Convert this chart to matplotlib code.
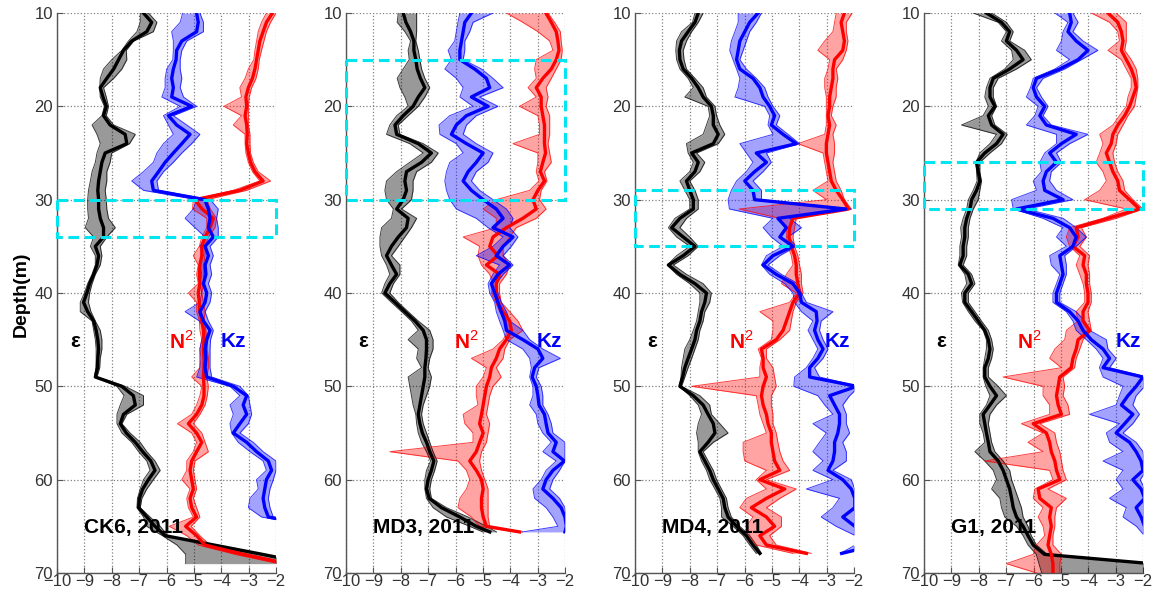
import numpy as np
import matplotlib.pyplot as plt
from matplotlib.patches import Rectangle

plt.rcParams['font.family'] = ['Liberation Sans', 'DejaVu Sans']
plt.rcParams['mathtext.fontset'] = 'custom'
plt.rcParams['mathtext.rm'] = 'Liberation Sans'
nan = np.nan

# ---------------- data: depth grids (m) ----------------
ck6_z = list(range(10, 70))
md3_z = list(range(10, 66)) + [65.6]
md4_z = list(range(10, 68)) + [67.9]
g1_z = list(range(10, 71))

# ---------------- CK6 ----------------
ck6_eps = [-6.84, -6.54, -6.72, -7.27, -7.57, -7.75, -7.93, -8.18, -8.42, -8.32,
           -8.20, -8.30, -8.06, -7.51, -7.45, -8.24, -8.36, -8.42, -8.48, -8.51,
           -8.48, -8.48, -8.42, -8.30, -8.30, -8.60, -8.48, -8.54, -8.66, -8.81,
           -8.91, -9.03, -8.88, -8.66, -8.57, -8.51, -8.48, -8.51, -8.52, -8.60,
           -7.63, -7.21, -7.14, -7.57, -7.69, -7.47, -7.14, -6.87, -6.57, -6.42,
           -6.66, -6.87, -6.99, -7.02, -6.72, -6.42, -6.05, -4.27, -2.50, -0.80]
ck6_eps_lo = [-6.96, -6.96, -7.08, -7.39, -7.63, -8.00, -8.30, -8.42, -8.44, -8.42,
              -8.27, -8.36, -8.72, -8.54, -8.42, -8.54, -8.60, -8.72, -8.78, -8.85,
              -8.88, -8.88, -8.85, -8.97, -8.66, -8.78, -8.60, -8.60, -8.72, -8.88,
              -9.00, -9.15, -9.15, -8.72, -8.66, -8.60, -8.57, -8.57, -8.58, -8.63,
              -7.81, -7.55, -7.69, -7.81, -7.81, -7.63, -7.27, -7.02, -6.72, -6.60,
              -6.84, -6.96, -7.06, -7.08, -6.84, -6.72, -6.15, -5.62, -5.30, -5.30]
ck6_eps_hi = [-6.66, -6.35, -6.48, -7.20, -7.47, -7.45, -7.63, -7.93, -8.30, -8.20,
              -8.12, -8.20, -7.93, -7.14, -7.35, -8.00, -8.06, -8.18, -8.18, -8.24,
              -8.20, -8.18, -8.12, -7.87, -8.18, -8.42, -8.36, -8.42, -8.60, -8.72,
              -8.81, -8.85, -8.76, -8.60, -8.42, -8.36, -8.36, -8.42, -8.44, -8.54,
              -7.51, -6.84, -6.84, -7.45, -7.63, -7.33, -6.96, -6.72, -6.42, -6.23,
              -6.48, -6.72, -6.90, -6.96, -6.60, -6.23, -5.95, -4.27, -2.50, -0.80]
ck6_n2 = [-2.13, -2.35, -2.47, -2.59, -2.65, -2.71, -2.77, -2.86, -3.01, -3.10,
          -3.07, -3.13, -3.07, -3.05, -3.07, -3.01, -2.93, -2.77, -2.47, -3.32,
          -4.96, -4.70, -4.29, -4.41, -4.59, -4.71, -4.71, -4.78, -4.80, -4.78,
          -4.84, -4.80, -4.78, -4.71, -4.65, -4.63, -4.65, -4.63, -4.63, -4.65,
          -4.63, -4.63, -4.71, -4.90, -5.20, -4.90, -4.71, -4.90, -5.08, -5.14,
          -5.08, -5.02, -5.14, -5.08, -4.90, -5.30, -4.90, -4.60, -3.20, -1.60]
ck6_n2_lo = [-2.35, -2.53, -2.65, -2.71, -2.77, -2.81, -3.01, -3.13, -3.32, -3.26,
             -3.90, -3.26, -3.56, -3.13, -3.13, -3.10, -3.01, -2.86, -2.59, -3.56,
             -5.02, -5.05, -4.53, -4.53, -4.71, -4.80, -5.02, -4.84, -4.90, -4.84,
             -5.20, -4.90, -4.90, -4.80, -4.78, -4.71, -4.78, -4.74, -4.78, -5.08,
             -4.71, -4.78, -4.90, -5.08, -5.60, -5.08, -4.90, -5.02, -5.26, -5.26,
             -5.44, -5.14, -5.26, -5.20, -5.02, -5.90, -5.26, -4.84, -3.50, -1.90]
ck6_n2_hi = [-2.00, -2.20, -2.35, -2.44, -2.53, -2.61, -2.65, -2.73, -2.89, -2.98,
             -3.01, -3.01, -3.01, -2.95, -2.95, -2.93, -2.83, -2.65, -2.20, -3.07,
             -4.53, -4.40, -4.17, -4.23, -4.47, -4.59, -4.59, -4.65, -4.65, -4.65,
             -4.71, -4.65, -4.59, -4.63, -4.56, -4.53, -4.51, -4.47, -4.47, -4.53,
             -4.47, -4.51, -4.59, -4.78, -5.02, -4.71, -4.59, -4.47, -4.96, -5.02,
             -4.96, -4.90, -5.02, -4.90, -4.78, -5.10, -4.78, -4.41, -3.00, -1.40]
ck6_kz = [-4.90, -4.84, -4.90, -5.44, -5.63, -5.65, -5.75, -5.81, -5.75, -5.81,
          -5.08, -5.93, -5.63, -5.14, -5.44, -5.75, -6.05, -6.29, -6.54, -6.48,
          -4.60, -4.47, -4.41, -4.47, -4.29, -4.59, -4.47, -4.59, -4.56, -4.65,
          -4.53, -4.59, -4.78, -4.65, -4.41, -4.53, -4.59, -4.56, -4.59, -4.53,
          -3.56, -3.07, -3.20, -3.07, -3.32, -3.56, -3.07, -2.71, -2.28, -2.16,
          -2.35, -2.41, -2.47, -2.41, -2.28, -0.50, nan, nan, nan, nan]
ck6_kz_lo = [-5.41, -5.50, -5.81, -5.75, -5.75, -5.77, -5.99, -6.05, -6.05, -6.17,
             -5.50, -6.11, -5.93, -5.75, -6.11, -6.35, -6.48, -6.84, -7.27, -6.84,
             -4.90, -5.02, -5.32, -4.96, -4.59, -4.78, -4.65, -4.78, -4.71, -4.78,
             -4.71, -4.78, -5.32, -4.80, -4.59, -4.71, -4.78, -4.78, -4.78, -4.90,
             -3.68, -3.32, -3.68, -3.56, -3.68, -3.62, -3.38, -2.95, -2.47, -2.35,
             -2.71, -2.65, -2.95, -3.01, -2.53, -0.60, nan, nan, nan, nan]
ck6_kz_hi = [-4.78, -4.65, -4.65, -5.26, -5.44, -5.50, -5.50, -5.44, -5.50, -5.38,
             -4.90, -5.75, -5.26, -4.78, -5.08, -5.44, -5.75, -6.11, -6.35, -6.29,
             -4.40, -4.11, -4.17, -4.11, -4.11, -4.41, -4.29, -4.41, -4.35, -4.47,
             -4.35, -4.41, -4.59, -4.47, -4.29, -4.39, -4.41, -4.41, -4.41, -4.35,
             -3.32, -3.01, -2.95, -2.89, -3.01, -3.32, -2.83, -2.47, -2.00, -2.00,
             -2.10, -2.22, -2.28, -2.22, -2.10, -0.40, nan, nan, nan, nan]

# ---------------- MD3 ----------------
md3_eps = [-7.91, -7.81, -7.64, -7.52, -7.52, -7.45, -7.40, -7.28, -7.12, -7.36,
           -7.55, -7.91, -8.21, -8.15, -7.36, -6.88, -7.24, -7.79, -7.85, -7.79,
           -7.91, -8.15, -7.73, -7.79, -8.09, -8.34, -8.52, -8.34, -8.15, -8.40,
           -8.58, -8.21, -7.85, -7.48, -7.18, -7.06, -7.06, -7.08, -7.12, -7.12,
           -7.18, -7.24, -7.30, -7.36, -7.30, -7.21, -7.06, -6.94, -6.79, -6.88,
           -7.00, -7.06, -6.96, -6.51, -5.84, -5.24, -4.75]
md3_eps_lo = [-8.09, -8.13, -7.85, -7.64, -7.73, -7.69, -7.91, -8.13, -8.03, -7.85,
              -7.73, -8.15, -8.40, -8.52, -7.67, -7.18, -7.67, -8.15, -8.52, -8.58,
              -8.52, -8.27, -8.34, -8.70, -8.76, -8.76, -8.70, -8.52, -8.40, -8.58,
              -8.70, -8.34, -7.97, -7.61, -7.36, -7.73, -7.36, -7.42, -7.24, -7.73,
              -7.67, -7.61, -7.55, -7.45, -7.42, -7.36, -7.24, -7.06, -6.91, -7.06,
              -7.12, -7.12, -7.06, -6.82, -6.33, -5.48, -5.00]
md3_eps_hi = [-7.42, -7.42, -7.42, -7.45, -7.36, -7.30, -7.24, -7.12, -6.94, -7.12,
              -7.36, -7.73, -8.09, -8.03, -7.18, -6.63, -6.88, -7.42, -7.55, -7.55,
              -7.61, -7.97, -7.42, -7.61, -7.85, -8.09, -8.34, -8.03, -8.03, -8.27,
              -8.40, -8.09, -7.73, -7.36, -6.94, -6.82, -6.82, -6.94, -7.00, -6.88,
              -6.94, -7.06, -7.18, -7.24, -7.18, -7.06, -6.94, -6.82, -6.67, -6.76,
              -6.88, -6.94, -6.88, -6.33, -5.54, -4.87, -4.50]
md3_n2 = [-2.70, -2.50, -2.32, -2.26, -2.22, -2.32, -2.50, -2.81, -3.05, -2.87,
          -2.87, -2.81, -2.75, -2.75, -2.75, -2.71, -2.81, -2.90, -2.75, -2.99,
          -3.17, -3.05, -3.54, -4.14, -4.63, -4.75, -4.45, -4.87, -4.39, -4.51,
          -4.51, -4.45, -4.26, -4.02, -3.96, -4.14, -4.39, -4.51, -4.69, -4.75,
          -4.87, -4.93, -4.99, -5.05, -5.12, -4.99, -5.12, -5.24, -5.48, -5.24,
          -5.05, -4.99, -5.05, -5.05, -4.99, -4.87, -3.66]
md3_n2_lo = [-4.14, -3.54, -2.99, -2.56, -2.44, -3.05, -3.11, -3.05, -3.35, -3.05,
             -3.66, -2.99, -2.93, -2.93, -3.90, -2.99, -2.99, -3.05, -2.95, -3.29,
             -4.51, -4.99, -4.51, -4.51, -5.72, -5.12, -5.18, -5.05, -4.75, -4.63,
             -4.69, -4.53, -4.39, -4.14, -4.08, -4.26, -4.63, -5.42, -4.87, -4.99,
             -5.24, -5.24, -5.18, -5.72, -5.66, -5.36, -5.36, -8.40, -5.91, -5.60,
             -5.48, -5.60, -5.84, -5.91, -5.42, -5.12, -3.80]
md3_n2_hi = [-2.62, -2.38, -2.17, -2.14, -2.10, -2.14, -2.32, -2.50, -2.69, -2.62,
             -2.69, -2.56, -2.56, -2.56, -2.62, -2.56, -2.50, -2.75, -2.66, -2.87,
             -2.93, -2.69, -3.05, -3.78, -4.02, -4.26, -4.26, -4.02, -4.14, -4.39,
             -4.39, -4.33, -4.02, -3.72, -3.54, -4.02, -4.20, -4.26, -4.51, -4.33,
             -4.63, -4.75, -4.81, -4.87, -4.75, -4.81, -4.87, -5.05, -5.12, -5.05,
             -4.93, -4.81, -4.81, -4.81, -4.81, -4.75, -3.55]
md3_kz = [-5.42, -5.66, -5.72, -5.78, -5.84, -5.84, -5.30, -4.87, -4.75, -5.42,
          -4.81, -5.60, -5.97, -6.15, -5.60, -4.99, -5.24, -5.54, -5.72, -5.42,
          -4.99, -4.51, -4.26, -4.63, -3.90, -4.26, -4.51, -4.02, -4.45, -4.69,
          -4.57, -4.45, -4.33, -4.20, -4.14, -3.54, -2.99, -2.81, -3.11, -3.20,
          -3.05, -2.99, -2.95, -2.75, -2.69, -2.62, -2.32, -2.44, -2.02, -2.44,
          -2.69, -2.81, -2.44, -2.14, -2.00, -1.95, -2.00]
md3_kz_lo = [-5.84, -5.91, -5.97, -6.03, -6.27, -6.15, -6.39, -5.97, -5.72, -5.84,
             -5.36, -6.21, -6.60, -6.57, -5.97, -5.72, -6.21, -6.33, -6.39, -6.33,
             -6.21, -5.97, -5.24, -4.81, -4.26, -4.63, -5.24, -4.39, -4.63, -4.81,
             -4.75, -4.57, -4.51, -4.39, -4.26, -4.14, -3.54, -3.29, -3.23, -3.29,
             -3.17, -3.17, -3.29, -3.05, -2.99, -2.81, -2.50, -2.81, -2.32, -2.69,
             -2.87, -3.17, -3.11, -2.69, -2.44, -2.26, -3.55]
md3_kz_hi = [-4.63, -5.36, -5.48, -5.66, -5.66, -5.72, -5.05, -4.63, -4.26, -5.12,
             -4.45, -5.24, -5.60, -5.72, -5.24, -4.63, -4.81, -5.24, -5.42, -5.12,
             -4.63, -4.14, -3.90, -4.02, -3.72, -3.96, -4.26, -3.90, -4.26, -4.51,
             -4.45, -4.33, -4.14, -4.02, -3.54, -3.29, -2.81, -2.17, -2.95, -3.05,
             -2.87, -2.81, -2.81, -2.62, -2.50, -2.44, -2.00, -2.00, -2.00, -2.20,
             -2.44, -2.56, -2.20, -2.00, -1.96, -1.90, -1.90]

# ---------------- MD4 ----------------
md4_eps = [-7.69, -7.81, -8.06, -8.30, -8.38, -8.36, -8.24, -7.93, -7.69, -7.51,
           -7.21, -7.14, -7.14, -6.96, -7.14, -7.93, -7.69, -7.81, -8.12, -8.00,
           -7.87, -7.87, -8.36, -8.66, -8.24, -7.81, -8.24, -8.78, -8.36, -7.81,
           -7.39, -7.45, -7.57, -7.63, -7.75, -7.81, -7.93, -8.06, -8.18, -8.26,
           -8.36, -7.87, -7.51, -7.33, -7.14, -7.08, -7.33, -7.63, -7.45, -7.27,
           -7.14, -6.96, -6.78, -6.72, -6.60, -6.29, -5.93, -5.69, -5.44]
md4_eps_lo = [-7.81, -7.90, -8.30, -8.48, -8.51, -8.48, -8.36, -8.06, -7.87, -8.18,
              -7.33, -7.27, -7.39, -7.51, -8.12, -8.06, -7.87, -8.00, -8.36, -8.18,
              -8.00, -8.00, -8.54, -8.78, -8.48, -8.00, -8.48, -8.82, -8.48, -8.00,
              -7.63, -7.63, -7.69, -7.75, -7.87, -8.00, -8.18, -8.24, -8.30, -8.32,
              -8.38, -8.00, -7.69, -7.57, -7.69, -7.75, -7.69, -7.69, -7.57, -7.39,
              -7.27, -7.08, -6.90, -6.84, -6.84, -6.42, -6.05, -5.81, -5.57]
md4_eps_hi = [-7.51, -7.69, -7.93, -8.12, -8.24, -8.21, -8.12, -7.81, -7.51, -7.39,
              -7.08, -7.02, -6.90, -6.72, -6.96, -7.75, -7.45, -7.63, -8.00, -7.81,
              -7.69, -7.69, -8.12, -8.36, -8.00, -7.69, -8.06, -8.60, -8.12, -7.51,
              -7.21, -7.27, -7.45, -7.51, -7.63, -7.69, -7.81, -7.93, -8.06, -8.18,
              -8.30, -7.63, -7.27, -7.21, -6.90, -6.60, -7.14, -7.51, -7.33, -7.14,
              -7.02, -6.84, -6.66, -6.60, -6.48, -6.17, -5.81, -5.57, -5.38]
md4_n2 = [-2.35, -2.47, -2.41, -2.35, -2.41, -2.71, -2.77, -2.77, -2.83, -2.89,
          -2.89, -2.95, -2.89, -2.95, -3.01, -3.01, -2.95, -2.89, -2.83, -2.65,
          -2.41, -2.20, -4.23, -4.35, -4.37, -4.29, -4.17, -4.11, -4.11, -4.05,
          -3.99, -4.23, -4.35, -4.47, -4.59, -4.84, -5.38, -5.32, -5.32, -5.20,
          -5.32, -5.38, -5.32, -5.20, -5.14, -5.02, -5.02, -4.96, -4.90, -4.71,
          -5.44, -4.53, -5.20, -5.75, -5.20, -4.90, -5.44, -5.20, -3.74]
md4_n2_lo = [-2.65, -2.71, -2.77, -3.07, -3.32, -2.89, -2.95, -3.07, -3.07, -3.01,
             -3.01, -3.01, -3.01, -3.07, -4.05, -3.13, -3.07, -3.01, -2.95, -3.50,
             -3.01, -6.20, -4.71, -4.47, -4.47, -4.41, -4.29, -4.23, -4.47, -4.65,
             -4.11, -4.35, -5.44, -4.96, -4.96, -5.02, -5.50, -5.38, -5.44, -5.44,
             -7.93, -5.57, -5.50, -5.44, -5.32, -5.20, -6.05, -6.05, -5.99, -5.20,
             -5.57, -5.20, -5.93, -6.17, -5.69, -5.93, -5.81, -5.57, -4.23]
md4_n2_hi = [-2.07, -2.28, -2.28, -2.22, -2.28, -2.41, -2.65, -2.59, -2.65, -2.65,
             -2.77, -2.83, -2.65, -2.77, -2.71, -2.71, -2.77, -2.71, -2.65, -2.47,
             -2.35, -2.10, -4.11, -4.17, -4.23, -4.17, -4.05, -3.99, -3.92, -3.92,
             -3.86, -4.11, -4.23, -4.29, -4.35, -4.71, -5.20, -5.20, -4.96, -4.90,
             -4.84, -5.02, -5.02, -4.96, -4.96, -4.84, -4.78, -4.71, -4.59, -4.35,
             -5.20, -4.11, -4.71, -5.20, -4.65, -4.65, -5.08, -4.84, -3.56]
md4_kz = [-5.50, -5.81, -5.99, -6.17, -6.23, -6.29, -6.17, -5.69, -5.44, -5.32,
          -5.08, -4.90, -5.02, -4.59, -4.11, -5.57, -5.20, -5.63, -5.99, -5.69,
          -5.63, -2.30, -4.78, -4.47, -4.71, -4.23, -4.96, -5.32, -4.84, -4.23,
          -3.99, -3.92, -3.38, -3.35, -3.44, -3.32, -3.13, -3.32, -3.62, -3.62,
          -1.90, -2.89, -2.71, -2.53, -2.53, -2.59, -2.71, -2.71, -2.77, -2.95,
          -2.41, -2.10, -1.97, -1.97, -2.41, -1.97, -1.20, -1.20, -2.45]
md4_kz_lo = [-6.23, -6.23, -6.35, -6.48, -6.54, -6.42, -6.29, -6.17, -6.23, -6.35,
             -5.26, -5.08, -5.14, -4.96, -6.17, -5.93, -5.69, -5.93, -6.29, -6.48,
             -6.60, -6.55, -4.96, -5.32, -5.02, -4.59, -5.20, -5.38, -5.08, -4.53,
             -4.23, -4.17, -3.92, -3.50, -3.68, -3.50, -3.32, -3.50, -3.74, -4.17,
             -4.20, -3.32, -3.07, -2.77, -3.50, -3.01, -3.26, -3.50, -3.13, -3.50,
             -2.77, -3.74, -2.53, -2.77, -3.20, -2.65, -1.95, -1.95, -2.50]
md4_kz_hi = [-5.38, -5.57, -5.81, -5.93, -6.05, -6.17, -5.93, -5.57, -5.26, -5.14,
             -4.96, -4.71, -4.84, -4.41, -3.99, -5.20, -5.02, -5.32, -5.69, -5.38,
             -5.38, -2.10, -4.35, -3.92, -4.41, -4.11, -4.71, -5.14, -4.65, -4.05,
             -3.92, -3.74, -2.77, -3.20, -3.26, -3.13, -2.95, -3.13, -3.44, -3.26,
             -1.80, -2.16, -2.41, -2.28, -2.28, -2.16, -2.41, -2.28, -2.28, -2.77,
             -2.10, -1.97, -1.90, -1.90, -1.97, -1.90, -1.00, -1.00, -2.40]

# ---------------- G1 ----------------
g1_eps = [-7.72, -7.17, -6.87, -6.99, -6.62, -6.38, -6.87, -7.47, -7.59, -7.59,
          -7.41, -7.65, -7.53, -7.11, -7.35, -7.78, -8.08, -8.02, -7.96, -8.08,
          -8.26, -8.32, -8.44, -8.51, -8.51, -8.57, -8.57, -8.69, -8.38, -8.26,
          -8.51, -8.51, -8.26, -8.02, -7.78, -7.65, -7.59, -7.65, -7.78, -7.78,
          -7.59, -7.35, -7.59, -7.84, -7.78, -7.72, -7.65, -7.59, -7.29, -7.11,
          -6.99, -6.87, -6.80, -6.74, -6.62, -6.38, -6.20, -6.01, -5.60, -1.70,
          -1.00]
g1_eps_lo = [-8.20, -7.29, -6.99, -7.17, -6.80, -6.74, -7.05, -7.59, -7.72, -7.78,
             -7.65, -7.84, -8.63, -7.35, -7.59, -7.96, -8.10, -8.08, -8.06, -8.20,
             -8.38, -8.44, -8.57, -8.66, -8.63, -8.69, -8.69, -8.75, -8.51, -8.44,
             -8.63, -8.59, -8.38, -8.14, -7.84, -7.72, -7.72, -7.78, -7.84, -7.84,
             -7.74, -7.59, -7.72, -7.96, -7.96, -7.84, -7.78, -8.14, -7.78, -7.47,
             -7.35, -7.53, -7.23, -7.17, -7.05, -6.62, -6.38, -6.20, -5.90, -5.80,
             -5.70]
g1_eps_hi = [-7.53, -6.99, -6.74, -6.87, -6.32, -6.08, -6.62, -7.29, -7.47, -7.47,
             -7.35, -7.53, -7.41, -6.96, -7.17, -7.59, -7.96, -7.96, -7.90, -7.96,
             -8.02, -8.20, -8.32, -8.38, -8.38, -8.44, -8.44, -8.57, -8.26, -8.14,
             -8.38, -8.38, -8.14, -7.90, -7.65, -7.53, -7.47, -7.53, -7.65, -7.65,
             -7.29, -6.99, -7.35, -7.59, -7.65, -7.59, -7.53, -7.41, -7.11, -6.87,
             -6.80, -6.68, -6.56, -6.44, -6.38, -6.20, -6.08, -5.89, -5.50, -1.60,
             -0.90]
g1_n2 = [-3.28, -2.92, -2.79, -2.73, -2.79, -2.61, -2.43, -2.31, -2.25, -2.37,
         -2.49, -2.67, -2.92, -3.10, -3.16, -3.34, -3.22, -3.10, -2.92, -2.86,
         -2.49, -2.13, -3.28, -4.44, -4.37, -4.56, -4.13, -4.19, -4.07, -4.07,
         -4.01, -4.01, -4.19, -4.19, -3.95, -4.37, -4.44, -4.56, -4.62, -5.04,
         -5.10, -5.16, -5.10, -4.98, -6.01, -5.53, -5.41, -5.35, -5.22, -5.16,
         -5.04, -5.83, -5.77, -5.35, -5.41, -5.35, -5.41, -5.47, -5.35, -5.29,
         -5.29]
g1_n2_lo = [-3.89, -3.22, -2.92, -2.86, -3.28, -2.79, -2.61, -2.43, -2.43, -2.55,
            -2.61, -2.86, -3.10, -3.58, -3.46, -3.58, -3.71, -3.46, -3.34, -3.58,
            -4.13, -2.61, -3.46, -4.68, -4.80, -4.68, -4.31, -4.44, -4.31, -4.19,
            -4.13, -4.13, -4.44, -4.37, -4.80, -4.86, -5.22, -5.41, -4.98, -7.11,
            -5.65, -5.65, -5.41, -5.41, -6.44, -5.65, -6.20, -5.65, -7.78, -5.41,
            -5.29, -5.95, -6.01, -5.65, -5.83, -5.65, -5.59, -5.89, -6.01, -6.99,
            -5.89]
g1_n2_hi = [-2.98, -2.61, -2.61, -2.61, -2.67, -2.43, -2.25, -2.19, -2.19, -2.25,
            -2.31, -2.55, -2.73, -2.92, -2.98, -3.10, -3.04, -2.92, -2.73, -2.67,
            -2.37, -2.00, -2.98, -4.25, -4.07, -4.31, -3.95, -4.01, -3.95, -3.95,
            -3.89, -3.89, -4.01, -3.95, -3.89, -4.19, -4.31, -4.44, -4.50, -4.92,
            -4.86, -4.92, -4.74, -4.68, -5.77, -5.22, -5.16, -5.04, -4.98, -4.92,
            -4.80, -5.47, -4.80, -5.16, -5.22, -5.22, -5.29, -5.29, -4.98, -5.04,
            -5.04]
g1_kz = [-4.68, -4.62, -4.74, -4.44, -4.01, -4.37, -5.04, -5.89, -6.01, -5.89,
         -5.59, -5.77, -5.53, -4.44, -4.98, -5.41, -5.16, -5.53, -5.65, -5.59,
         -4.92, -6.62, -5.29, -4.68, -4.44, -4.56, -5.04, -4.98, -4.92, -5.04,
         -5.16, -5.16, -4.68, -4.37, -4.19, -3.89, -3.46, -3.22, -3.46, -2.00,
         -2.25, -2.55, -2.79, -2.37, -2.67, -2.98, -2.49, -2.25, -2.07, -2.00,
         -2.37, -2.07, -1.94, -2.25, -2.07, -1.94, -1.80, nan, nan, nan,
         nan]
g1_kz_lo = [-5.22, -4.74, -4.92, -4.98, -5.16, -4.68, -5.22, -6.01, -6.11, -6.26,
            -5.83, -5.95, -6.26, -5.16, -5.16, -5.59, -5.77, -5.71, -6.01, -5.89,
            -6.80, -6.74, -5.65, -4.92, -5.16, -4.80, -5.41, -5.35, -5.04, -5.16,
            -5.29, -5.29, -4.80, -4.56, -4.44, -4.07, -3.71, -3.46, -3.59, -3.46,
            -2.73, -2.86, -2.98, -3.95, -2.86, -3.34, -3.22, -2.73, -3.46, -2.73,
            -2.98, -2.73, -3.22, -2.61, -2.73, -2.24, -1.95, nan, nan, nan,
            nan]
g1_kz_hi = [-4.56, -4.37, -4.56, -4.19, -3.65, -4.25, -4.86, -5.65, -5.89, -5.71,
            -5.47, -5.65, -5.35, -4.01, -4.68, -5.16, -4.98, -5.35, -5.41, -5.16,
            -4.56, -6.26, -4.92, -4.44, -4.07, -4.44, -4.86, -4.80, -4.80, -4.92,
            -5.04, -5.04, -4.44, -4.13, -3.95, -3.34, -3.28, -2.98, -3.22, -1.88,
            -1.94, -2.25, -2.37, -2.13, -2.37, -2.73, -2.25, -2.00, -1.94, -1.88,
            -2.10, -1.94, -1.88, -1.94, -1.88, -1.88, -1.70, nan, nan, nan,
            nan]

# ---------------- panel annotations ----------------
stations = ['CK6, 2011', 'MD3, 2011', 'MD4, 2011', 'G1, 2011']
box_top = [30, 15, 29, 26]
box_bot = [34, 30, 35, 31]
eps_x = [-9.33, -9.37, -9.36, -9.36]
n2_x = [-5.44, -5.60, -6.11, -6.14]
kz_x = [-3.55, -2.56, -2.59, -2.55]

panels = [
    (ck6_z, ck6_eps, ck6_eps_lo, ck6_eps_hi, ck6_n2, ck6_n2_lo, ck6_n2_hi, ck6_kz, ck6_kz_lo, ck6_kz_hi),
    (md3_z, md3_eps, md3_eps_lo, md3_eps_hi, md3_n2, md3_n2_lo, md3_n2_hi, md3_kz, md3_kz_lo, md3_kz_hi),
    (md4_z, md4_eps, md4_eps_lo, md4_eps_hi, md4_n2, md4_n2_lo, md4_n2_hi, md4_kz, md4_kz_lo, md4_kz_hi),
    (g1_z, g1_eps, g1_eps_lo, g1_eps_hi, g1_n2, g1_n2_lo, g1_n2_hi, g1_kz, g1_kz_lo, g1_kz_hi),
]


def profile(ax, z, c, lo, hi, col, a=0.36):
    ax.fill_betweenx(z, lo, hi, color=col, alpha=a, lw=0, zorder=2)
    ax.plot(lo, z, color=col, lw=0.7, alpha=0.75, zorder=3)
    ax.plot(hi, z, color=col, lw=0.7, alpha=0.75, zorder=3)
    ax.plot(c, z, color=col, lw=2.4, zorder=4)


fig = plt.figure(figsize=(11.57, 6.0), dpi=100)
lefts = [57, 346, 635, 924]

for i, p in enumerate(panels):
    ax = fig.add_axes([lefts[i] / 1157, 27 / 600, 219 / 1157, 560 / 600])
    z = p[0]
    profile(ax, z, p[1], p[2], p[3], 'black', a=0.4)
    profile(ax, z, p[4], p[5], p[6], 'red')
    profile(ax, z, p[7], p[8], p[9], 'blue')

    ax.add_patch(Rectangle((-10, box_top[i]), 8, box_bot[i] - box_top[i], fill=False,
                           ec='#00E5F0', lw=2.2, ls=(0, (3.5, 1.8)), clip_on=False, zorder=6))

    ax.text(eps_x[i], 45.2, 'ε', fontsize=15, fontweight='bold', color='black',
            ha='center', va='center', zorder=7)
    ax.text(n2_x[i], 45.2, r'N$^{2}$', fontsize=15, fontweight='bold', color='red',
            ha='center', va='center', zorder=7)
    ax.text(kz_x[i], 45.2, 'Kz', fontsize=15, fontweight='bold', color='blue',
            ha='center', va='center', zorder=7)
    ax.text(-9.03, 65.15, stations[i], fontsize=15, fontweight='bold', color='black',
            ha='left', va='center', zorder=7)

    ax.set_xlim(-10, -2)
    ax.set_ylim(70, 10)
    ax.set_xticks(range(-10, -1))
    ax.set_yticks([10, 20, 30, 40, 50, 60, 70])
    ax.grid(True, linestyle=':', color='#808080', lw=0.9)
    ax.set_axisbelow(True)
    ax.tick_params(direction='in', length=4, width=0.8, color='#555555',
                   labelsize=12, labelcolor='#333333')
    ax.tick_params(axis='x', pad=1)
    ax.tick_params(axis='y', pad=3)
    for s in ['top', 'right']:
        ax.spines[s].set_visible(False)
    for s in ['left', 'bottom']:
        ax.spines[s].set_color('#555555')
        ax.spines[s].set_linewidth(1.0)

fig.text(21 / 1157, 0.51, 'Depth(m)', rotation=90, fontsize=14, fontweight='bold',
         ha='center', va='center')

fig.savefig('out.png', dpi=100)
